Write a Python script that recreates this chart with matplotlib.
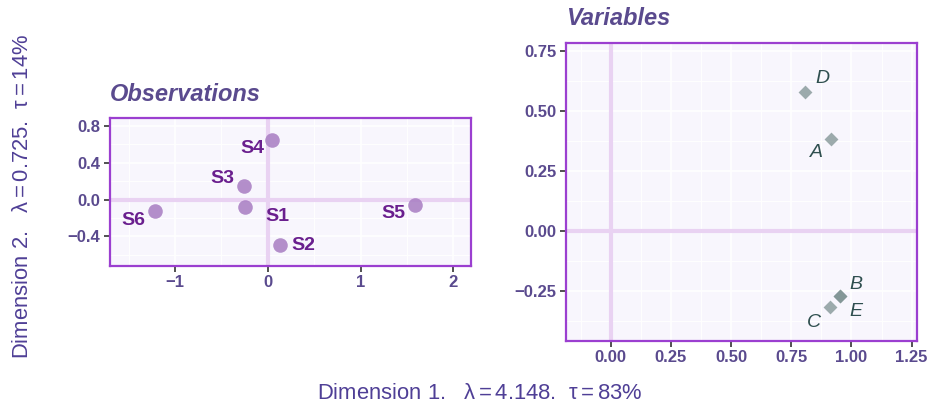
import matplotlib.pyplot as plt
import numpy as np

# Observations (row scores)
obs_names = ["S1", "S2", "S3", "S4", "S5", "S6"]
obs_x = [-0.25, 0.13, -0.26, 0.05, 1.59, -1.21]
obs_y = [-0.08, -0.50, 0.15, 0.65, -0.06, -0.12]

# Variables (column scores)
var_names = ["A", "B", "C", "D", "E"]
var_x = [0.915, 0.953, 0.909, 0.809, 0.953]
var_y = [0.382, -0.272, -0.319, 0.578, -0.272]

xlab = "Dimension 1.   $\\lambda = $4.148.  $\\tau = $83%"
ylab = "Dimension 2.   $\\lambda = $0.725.  $\\tau = $14%"

plt.rcParams["font.family"] = ["Liberation Sans", "DejaVu Sans"]
plt.rcParams["mathtext.fontset"] = "custom"
plt.rcParams["mathtext.rm"] = "Liberation Sans"
plt.rcParams["mathtext.it"] = "Liberation Sans"

bg = "#f8f6fd"
border = "#9b3fd0"
zero_col = "#e9d2f2"
tick_col = "#5a4a8e"
title_col = "#5a4a8e"


def style_axes(ax, xmaj, xmin_, ymaj, ymin_):
    ax.set_facecolor(bg)
    for s in ax.spines.values():
        s.set_color(border)
        s.set_linewidth(1.6)
    ax.set_xticks(xmaj)
    ax.set_yticks(ymaj)
    ax.set_xticks(xmin_, minor=True)
    ax.set_yticks(ymin_, minor=True)
    ax.grid(True, which="major", color="white", lw=1.2)
    ax.grid(True, which="minor", color="white", lw=0.7)
    ax.set_axisbelow(True)
    ax.tick_params(which="major", length=4, width=1.2, color="#333333",
                   labelcolor=tick_col, labelsize=12, pad=3)
    ax.tick_params(which="minor", length=0)
    ax.axhline(0, color=zero_col, lw=3, zorder=1)
    ax.axvline(0, color=zero_col, lw=3, zorder=1)


fig = plt.figure(figsize=(9.28, 4.07), dpi=100)

# left panel: observations
ax1 = fig.add_axes([0.1185, 0.3472, 0.389, 0.3636])
ax1.set_xlim(-1.70, 2.19)
ax1.set_ylim(-0.72, 0.89)
style_axes(ax1, [-1, 0, 1, 2], [-1.5, -0.5, 0.5, 1.5],
           [-0.4, 0.0, 0.4, 0.8], [-0.6, -0.2, 0.2, 0.6])
ax1.set_yticklabels(["\u22120.4", "0.0", "0.4", "0.8"])
ax1.set_xticklabels(["\u22121", "0", "1", "2"])
for lab in ax1.get_xticklabels() + ax1.get_yticklabels():
    lab.set_fontweight("bold")
ax1.scatter(obs_x, obs_y, s=110, color="#a77cc2", alpha=0.85, lw=0, zorder=3)
obs_off = {"S1": (15, -7, "left"), "S2": (8, 0, "left"), "S3": (-7, 5, "right"),
           "S4": (-6, -6, "right"), "S5": (-7, -6, "right"), "S6": (-7, -7, "right")}
for n, x, y in zip(obs_names, obs_x, obs_y):
    dx, dy, ha = obs_off[n]
    ax1.annotate(n, (x, y), xytext=(dx, dy), textcoords="offset points",
                 ha=ha, va="center", fontsize=14, fontweight="bold",
                 color="#6a1f8e", zorder=4)
ax1.text(0.0, 1.16, "Observations", transform=ax1.transAxes, fontsize=17,
         fontweight="bold", fontstyle="italic", color=title_col, va="center")

# right panel: variables
ax2 = fig.add_axes([0.6099, 0.1629, 0.3779, 0.7322])
ax2.set_xlim(-0.186, 1.271)
ax2.set_ylim(-0.458, 0.783)
style_axes(ax2, [0, 0.25, 0.5, 0.75, 1.0, 1.25],
           [-0.125, 0.125, 0.375, 0.625, 0.875, 1.125],
           [-0.25, 0.0, 0.25, 0.5, 0.75], [-0.375, -0.125, 0.125, 0.375, 0.625])
ax2.set_xticklabels(["0.00", "0.25", "0.50", "0.75", "1.00", "1.25"])
ax2.set_yticklabels(["\u22120.25", "0.00", "0.25", "0.50", "0.75"])
for lab in ax2.get_xticklabels() + ax2.get_yticklabels():
    lab.set_fontweight("bold")
ax2.scatter(var_x, var_y, s=50, marker="D", color="#7d9191", alpha=0.75,
            lw=0, zorder=3)
var_off = {"A": (-6, -10, "right"), "B": (7, 8, "left"), "C": (-6, -11, "right"),
           "D": (7, 10, "left"), "E": (7, -11, "left")}
for n, x, y in zip(var_names, var_x, var_y):
    dx, dy, ha = var_off[n]
    ax2.annotate(n, (x, y), xytext=(dx, dy), textcoords="offset points",
                 ha=ha, va="center", fontsize=14, fontstyle="italic",
                 color="#2f4f4f", zorder=4)
ax2.text(0.0, 1.08, "Variables", transform=ax2.transAxes, fontsize=17,
         fontweight="bold", fontstyle="italic", color=title_col, va="center")

fig.text(0.517, 0.034, xlab, ha="center", va="center", fontsize=15.8,
         color="#4f3f96")
fig.text(0.024, 0.517, ylab, ha="center", va="center", fontsize=15.8,
         color="#4f3f96", rotation=90)

fig.savefig("out.png", dpi=100)
